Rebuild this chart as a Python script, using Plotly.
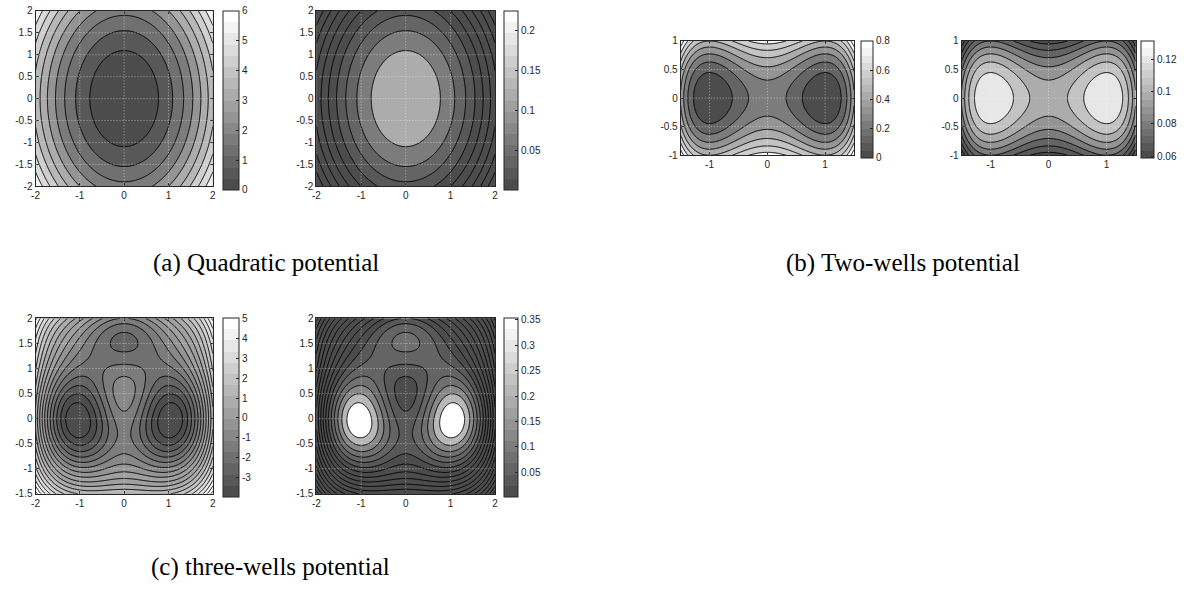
import numpy as np
import plotly.graph_objects as go

# ---------------- potentials and plotting data ----------------
# (a) quadratic potential  V = c0*x^2 + c1*y^2
QUAD_COEF = [1.0, 0.5]
QUAD_XRANGE = [-2.0, 2.0]
QUAD_YRANGE = [-2.0, 2.0]
QUAD_LEVELS = [0.6, 5.4, 0.6]          # start, end, step of the contour levels
QUAD_VCLIM = [0.0, 6.0]
QUAD_DENS_VTOP = 0.0                   # level of V giving the top density level

# (b) two-wells potential  V = c0*(x^2-1)^2 + c1*y^2
TWO_COEF = [0.25, 0.5]
TWO_XRANGE = [-1.5, 1.5]
TWO_YRANGE = [-1.0, 1.0]
TWO_LEVELS = [0.1, 0.8, 0.1]
TWO_VCLIM = [0.0, 0.8]
TWO_DENS_VTOP = 0.0

# (c) three-wells potential: gaussian bumps/holes plus quartic confinement
THREE_AMP = [3.0, -3.0, -5.0, -5.0]
THREE_CX = [0.0, 0.0, 1.0, -1.0]
THREE_CY = [1 / 3, 5 / 3, 0.0, 0.0]
THREE_QUARTIC = [0.2, 0.2]
THREE_QUARTIC_Y0 = 1 / 3
THREE_XRANGE = [-2.0, 2.0]
THREE_YRANGE = [-1.5, 2.0]
THREE_LEVELS = [-3.5, 5.0, 0.5]
THREE_VCLIM_TOP = 5.0
THREE_DENS_VTOP = -3.5

# tick values
XT_22 = [-2, -1, 0, 1, 2]
YT_QUAD = [-2, -1.5, -1, -0.5, 0, 0.5, 1, 1.5, 2]
XT_TWO = [-1, 0, 1]
YT_TWO = [-1, -0.5, 0, 0.5, 1]
YT_THREE = [-1.5, -1, -0.5, 0, 0.5, 1, 1.5, 2]
CB_QUAD_V = [0, 1, 2, 3, 4, 5, 6]
CB_QUAD_P = [0.05, 0.1, 0.15, 0.2]
CB_TWO_V = [0, 0.2, 0.4, 0.6, 0.8]
CB_TWO_P = [0.06, 0.08, 0.1, 0.12]
CB_THREE_V = [-3, -2, -1, 0, 1, 2, 3, 4, 5]
CB_THREE_P = [0.05, 0.1, 0.15, 0.2, 0.25, 0.3, 0.35]

CAPTIONS = ["(a) Quadratic potential", "(b) Two-wells potential", "(c) three-wells potential"]


def v_quad(x, y):
    return QUAD_COEF[0] * x ** 2 + QUAD_COEF[1] * y ** 2


def v_two(x, y):
    return TWO_COEF[0] * (x ** 2 - 1) ** 2 + TWO_COEF[1] * y ** 2


def v_three(x, y):
    v = THREE_QUARTIC[0] * x ** 4 + THREE_QUARTIC[1] * (y - THREE_QUARTIC_Y0) ** 4
    for a, cx, cy in zip(THREE_AMP, THREE_CX, THREE_CY):
        v = v + a * np.exp(-(x - cx) ** 2 - (y - cy) ** 2)
    return v


def partition(vfun):
    # normalisation of exp(-V) over a wide box
    g = np.linspace(-6, 6, 1201)
    X, Y = np.meshgrid(g, g)
    h = g[1] - g[0]
    return float(np.exp(-vfun(X, Y)).sum() * h * h)


# ---------------- colour handling ----------------
NCOL = 16
GRAY_LO = 0.30


def gray(value, lo, hi):
    t = (value - lo) / (hi - lo)
    idx = int(np.clip(np.floor(t * NCOL), 0, NCOL - 1))
    g = GRAY_LO + (1 - GRAY_LO) * idx / (NCOL - 1)
    c = int(round(g * 255))
    return f"rgb({c},{c},{c})"


def bar_scale():
    out = []
    for i in range(NCOL):
        g = GRAY_LO + (1 - GRAY_LO) * i / (NCOL - 1)
        c = int(round(g * 255))
        col = f"rgb({c},{c},{c})"
        out.append([i / NCOL, col])
        out.append([(i + 1) / NCOL, col])
    return out


# ---------------- geometry (pixels) ----------------
W, H = 1188, 599
FONT = "Liberation Sans"
TXT = "#262626"
GRID = dict(color="rgba(255,255,255,0.5)", width=1, dash="1px,2px")

PANELS = [
    dict(name="a1", x0=31.7, x1=210.0, y0=5.0, y1=184.0, cbx=220.0, cbw=16),
    dict(name="a2", x0=314.3, x1=494.0, y0=5.0, y1=184.0, cbx=503.0, cbw=14),
    dict(name="b1", x0=680.7, x1=855.0, y0=35.7, y1=152.3, cbx=861.7, cbw=12),
    dict(name="b2", x0=963.3, x1=1138.3, y0=35.7, y1=152.3, cbx=1144.0, cbw=13),
    dict(name="c1", x0=31.7, x1=210.0, y0=318.8, y1=497.7, cbx=220.0, cbw=16),
    dict(name="c2", x0=314.3, x1=494.0, y0=318.8, y1=497.7, cbx=503.0, cbw=14),
]

SETUPS = [
    dict(vfun=v_quad, xr=QUAD_XRANGE, yr=QUAD_YRANGE, lev=QUAD_LEVELS, vclim=QUAD_VCLIM,
         dtop=QUAD_DENS_VTOP, xt=XT_22, yt=YT_QUAD, cbv=CB_QUAD_V, cbp=CB_QUAD_P),
    dict(vfun=v_two, xr=TWO_XRANGE, yr=TWO_YRANGE, lev=TWO_LEVELS, vclim=TWO_VCLIM,
         dtop=TWO_DENS_VTOP, xt=XT_TWO, yt=YT_TWO, cbv=CB_TWO_V, cbp=CB_TWO_P),
    dict(vfun=v_three, xr=THREE_XRANGE, yr=THREE_YRANGE, lev=THREE_LEVELS, vclim=None,
         dtop=THREE_DENS_VTOP, xt=XT_22, yt=YT_THREE, cbv=CB_THREE_V, cbp=CB_THREE_P),
]

fig = go.Figure()
layout = dict(width=W, height=H, margin=dict(l=0, r=0, t=0, b=0),
              paper_bgcolor="white", plot_bgcolor="white", showlegend=False)
shapes = []
annotations = []


def fmt(v):
    return f"{v:g}"


for k, setup in enumerate(SETUPS):
    xs = np.linspace(setup["xr"][0], setup["xr"][1], 241)
    ys = np.linspace(setup["yr"][0], setup["yr"][1], 241)
    X, Y = np.meshgrid(xs, ys)
    V = setup["vfun"](X, Y)
    Z = partition(setup["vfun"])

    s, e, d = setup["lev"]
    levels = np.arange(s, e + d / 2, d)
    n = len(levels)
    if setup["vclim"] is None:
        vclim = [float(V.min()), THREE_VCLIM_TOP]
    else:
        vclim = setup["vclim"]
    pclim = [np.exp(-vclim[1]) / Z, np.exp(-setup["dtop"]) / Z]

    # band j (0..n): region below level 0, then between consecutive levels
    v_band_vals = [vclim[0]] + list(levels)
    p_band_vals = ([np.exp(-levels[0]) / Z] + [np.exp(-levels[j]) / Z for j in range(1, n)]
                   + [pclim[0]])

    for side in range(2):
        idx = 2 * k + side
        p = PANELS[idx]
        ax = "" if idx == 0 else str(idx + 1)
        if side == 0:
            cols = [gray(v, vclim[0], vclim[1]) for v in v_band_vals]
            clo, chi, cticks = vclim[0], vclim[1], setup["cbv"]
        else:
            cols = [gray(v, pclim[0], pclim[1]) for v in p_band_vals]
            clo, chi, cticks = pclim[0], pclim[1], setup["cbp"]
        cscale = [[j / n, c] for j, c in enumerate(cols)]

        fig.add_trace(go.Contour(
            x=xs, y=ys, z=V, xaxis="x" + ax, yaxis="y" + ax,
            autocontour=False,
            contours=dict(start=s, end=s + (n - 1) * d, size=d, coloring="fill", showlines=True),
            line=dict(color="black", width=1, smoothing=1),
            colorscale=cscale, zauto=False, zmin=s - d / 2, zmax=s + (n - 1) * d + d / 2,
            showscale=False, hoverinfo="skip"))

        fig.add_trace(go.Scatter(
            x=[None, None], y=[None, None], xaxis="x" + ax, yaxis="y" + ax, mode="markers",
            hoverinfo="skip",
            marker=dict(color=[clo, chi], cmin=clo, cmax=chi, colorscale=bar_scale(),
                        showscale=True,
                        colorbar=dict(x=p["cbx"] / W, xanchor="left", y=1 - p["y0"] / H,
                                      yanchor="top", len=p["y1"] - p["y0"], lenmode="pixels",
                                      thickness=p["cbw"], thicknessmode="pixels",
                                      xpad=0, ypad=0, outlinewidth=1, outlinecolor=TXT,
                                      ticks="inside", ticklen=3, tickcolor=TXT,
                                      tickvals=cticks, ticktext=[fmt(t) for t in cticks],
                                      tickfont=dict(family=FONT, size=10, color=TXT)))))

        axcommon = dict(showgrid=False, zeroline=False, showline=True, linecolor=TXT,
                        linewidth=1, mirror="ticks", ticks="inside", ticklen=3, tickcolor=TXT,
                        tickfont=dict(family=FONT, size=10, color=TXT), fixedrange=True)
        layout["xaxis" + ax] = dict(axcommon, domain=[p["x0"] / W, p["x1"] / W],
                                    range=setup["xr"], anchor="y" + ax,
                                    tickvals=setup["xt"], ticktext=[fmt(t) for t in setup["xt"]])
        layout["yaxis" + ax] = dict(axcommon, domain=[1 - p["y1"] / H, 1 - p["y0"] / H],
                                    range=setup["yr"], anchor="x" + ax,
                                    tickvals=setup["yt"], ticktext=[fmt(t) for t in setup["yt"]])

        # dotted grid drawn over the filled contours
        for t in setup["xt"]:
            if setup["xr"][0] < t < setup["xr"][1]:
                shapes.append(dict(type="line", xref="x" + ax, yref="y" + ax + " domain",
                                   x0=t, x1=t, y0=0, y1=1, layer="above", line=GRID))
        for t in setup["yt"]:
            if setup["yr"][0] < t < setup["yr"][1]:
                shapes.append(dict(type="line", xref="x" + ax + " domain", yref="y" + ax,
                                   x0=0, x1=1, y0=t, y1=t, layer="above", line=GRID))

# sub-figure captions
CAPTION_POS = [(264, 262), (904, 262), (268, 572)]
for text, (cx, cy) in zip(CAPTIONS, CAPTION_POS):
    annotations.append(dict(text=text, x=cx / W, y=1 - cy / H, xref="paper", yref="paper",
                            xanchor="center", yanchor="middle", showarrow=False,
                            font=dict(family="Liberation Serif", size=25, color="black")))

layout["shapes"] = shapes
layout["annotations"] = annotations
fig.update_layout(**layout)
fig.write_html("out.html")
